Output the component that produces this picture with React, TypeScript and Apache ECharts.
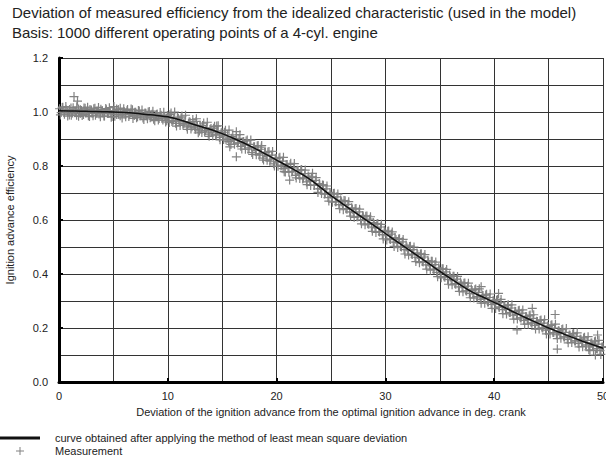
import React, { useEffect, useRef } from "react";
import * as echarts from "echarts";

const titleLine1 = "Deviation of measured efficiency from the idealized characteristic (used in the model)";
const titleLine2 = "Basis: 1000 different operating points of a 4-cyl. engine";
const xAxisName = "Deviation of the ignition advance from the optimal ignition advance in deg. crank";
const yAxisName = "Ignition advance efficiency";
const curveName = "curve obtained after applying the method of least mean square deviation";
const measName = "Measurement";

// fitted curve, read at each integer x (0..50)
const curveX = [0, 1, 2, 3, 4, 5, 6, 7, 8, 9, 10, 11, 12, 13, 14, 15, 16, 17, 18, 19, 20, 21, 22, 23, 24, 25, 26, 27, 28, 29, 30, 31, 32, 33, 34, 35, 36, 37, 38, 39, 40, 41, 42, 43, 44, 45, 46, 47, 48, 49, 50];
const curveY = [1.005, 1.004, 1.003, 1.002, 1.001, 1.0, 0.998, 0.995, 0.991, 0.987, 0.982, 0.972, 0.959, 0.946, 0.934, 0.92, 0.903, 0.885, 0.865, 0.844, 0.822, 0.8, 0.777, 0.752, 0.722, 0.69, 0.662, 0.634, 0.606, 0.578, 0.55, 0.522, 0.494, 0.466, 0.438, 0.41, 0.383, 0.357, 0.333, 0.314, 0.295, 0.275, 0.255, 0.236, 0.218, 0.2, 0.184, 0.168, 0.153, 0.139, 0.125];

// measured points [x, efficiency], part 1
const measurementsA: [number, number][] = [
  [0.05, 1.012], [0.2, 0.998], [0.35, 1.018], [0.5, 0.992], [0.65, 1.008], [0.8, 1.001], [0.95, 0.989],
  [1.1, 1.015], [1.25, 0.996], [1.38, 1.057], [1.5, 1.003], [1.62, 0.988], [1.8, 1.011], [1.95, 0.994], [1.7, 1.04],
  [2.08, 1.006], [2.25, 0.991], [2.4, 1.014], [2.55, 0.999], [2.7, 0.986], [2.85, 1.009],
  [3.05, 0.995], [3.2, 1.012], [3.35, 0.988], [3.5, 1.004], [3.68, 0.993], [3.85, 1.01],
  [4.02, 0.997], [4.18, 0.985], [4.35, 1.008], [4.52, 0.994], [4.7, 1.002], [4.88, 0.983],
  [5.05, 1.02], [5.12, 1.004], [5.3, 0.991], [5.45, 1.009], [5.62, 0.986], [5.8, 0.998], [5.95, 1.012],
  [6.1, 0.99], [6.25, 1.005], [6.42, 0.983], [6.6, 0.996], [6.75, 1.008], [6.92, 0.987],
  [7.05, 0.999], [7.22, 0.982], [7.38, 1.004], [7.55, 0.99], [7.72, 0.978], [7.9, 0.996],
  [8.05, 0.986], [8.2, 1.0], [8.38, 0.979], [8.55, 0.992], [8.7, 0.973], [8.88, 0.985],
  [9.02, 0.993], [9.2, 0.976], [9.38, 0.988], [9.55, 0.97], [9.72, 0.982], [9.9, 0.968],
  [10.05, 0.978], [10.2, 0.99], [10.38, 0.965], [10.55, 0.975], [10.72, 0.958], [10.88, 0.981],
  [11.05, 0.966], [11.22, 0.978], [11.4, 0.952], [11.58, 0.963], [11.75, 0.945], [11.9, 0.958],
  [12.05, 0.962], [12.22, 0.945], [12.4, 0.953], [12.55, 0.936], [12.72, 0.949], [12.9, 0.93], [12.6, 0.965],
  [13.05, 0.938], [13.2, 0.95], [13.38, 0.926], [13.55, 0.941], [13.72, 0.918], [13.88, 0.935],
  [14.05, 0.925], [14.22, 0.94], [14.4, 0.915], [14.58, 0.93], [14.75, 0.906], [14.9, 0.922], [14.5, 0.948],
  [15.05, 0.912], [15.2, 0.925], [15.35, 0.897], [15.5, 0.915], [15.7, 0.871], [15.85, 0.903], [15.6, 0.89],
  [16.05, 0.896], [16.3, 0.927], [16.3, 0.834], [16.4, 0.885], [16.55, 0.902], [16.7, 0.873], [16.88, 0.889],
  [17.05, 0.878], [17.2, 0.893], [17.38, 0.862], [17.55, 0.88], [17.72, 0.85], [17.9, 0.871],
  [18.05, 0.858], [18.22, 0.874], [18.4, 0.84], [18.55, 0.862], [18.72, 0.829], [18.9, 0.85], [18.6, 0.87],
  [19.05, 0.838], [19.2, 0.852], [19.38, 0.818], [19.55, 0.84], [19.72, 0.808], [19.88, 0.829],
  [20.05, 0.815], [20.22, 0.83], [20.4, 0.8], [20.55, 0.818], [20.7, 0.779], [20.88, 0.806], [20.6, 0.79],
  [21.05, 0.794], [21.2, 0.748], [21.25, 0.806], [21.4, 0.778], [21.58, 0.793], [21.75, 0.765], [21.9, 0.784],
  [22.05, 0.771], [22.22, 0.785], [22.4, 0.752], [22.58, 0.772], [22.75, 0.741], [22.9, 0.763],
  [23.05, 0.745], [23.2, 0.758], [23.3, 0.773], [23.45, 0.728], [23.6, 0.747], [23.78, 0.715], [23.92, 0.735],
  [24.05, 0.716], [24.22, 0.73], [24.4, 0.696], [24.55, 0.715], [24.72, 0.683], [24.9, 0.702],
  [25.05, 0.685], [25.22, 0.698], [25.4, 0.668], [25.55, 0.686], [25.72, 0.657], [25.88, 0.674],
  [26.05, 0.656], [26.2, 0.672], [26.38, 0.642], [26.55, 0.658], [26.72, 0.63], [26.9, 0.645],
  [27.05, 0.628], [27.22, 0.642], [27.4, 0.612], [27.58, 0.63], [27.72, 0.6], [27.9, 0.617],
  [28.05, 0.601], [28.2, 0.614], [28.38, 0.586], [28.55, 0.603], [28.72, 0.574], [28.9, 0.59],
  [29.05, 0.572], [29.22, 0.585], [29.4, 0.557], [29.55, 0.574], [29.72, 0.546], [29.9, 0.562],
  [30.05, 0.545], [30.22, 0.558], [30.4, 0.53], [30.55, 0.548], [30.72, 0.518], [30.88, 0.535],
  [31.05, 0.517], [31.22, 0.53], [31.4, 0.502], [31.55, 0.519], [31.72, 0.49], [31.9, 0.507],
  [32.05, 0.489], [32.22, 0.502], [32.4, 0.474], [32.55, 0.49], [32.72, 0.462], [32.9, 0.478],
  [33.05, 0.461], [33.22, 0.474], [33.4, 0.446], [33.55, 0.463], [33.72, 0.434], [33.9, 0.45],
  [34.05, 0.433], [34.22, 0.447], [34.4, 0.418], [34.55, 0.435], [34.72, 0.406], [34.9, 0.423],
  [35.05, 0.405], [35.22, 0.419], [35.4, 0.39], [35.55, 0.408], [35.72, 0.38], [35.9, 0.396],
  [36.05, 0.378], [36.22, 0.392], [36.4, 0.364], [36.55, 0.381], [36.72, 0.352], [36.9, 0.37],
  [37.05, 0.352], [37.22, 0.366], [37.4, 0.338], [37.55, 0.355], [37.72, 0.328], [37.9, 0.344],
  [38.05, 0.328], [38.22, 0.342], [38.4, 0.316], [38.55, 0.332], [38.8, 0.353], [38.72, 0.306], [38.9, 0.322],
  [39.05, 0.31], [39.22, 0.322], [39.4, 0.296], [39.55, 0.313], [39.72, 0.287], [39.9, 0.303],
  [40.05, 0.29], [40.22, 0.303], [40.4, 0.328], [40.45, 0.277], [40.6, 0.294], [40.75, 0.268], [40.9, 0.283],
  [41.05, 0.27], [41.22, 0.284], [41.4, 0.257], [41.55, 0.274], [41.72, 0.248], [41.9, 0.262],
  [42.05, 0.25], [42.1, 0.193], [42.22, 0.264], [42.4, 0.238], [42.55, 0.255], [42.72, 0.228], [42.9, 0.243],
  [43.05, 0.232], [43.22, 0.245], [43.4, 0.219], [43.5, 0.273], [43.58, 0.236], [43.72, 0.21], [43.9, 0.225],
  [44.05, 0.214], [44.22, 0.228], [44.4, 0.201], [44.55, 0.218], [44.72, 0.192], [44.9, 0.207],
  [45.05, 0.196], [45.22, 0.21], [45.4, 0.183], [45.6, 0.25], [45.8, 0.122], [45.55, 0.2], [45.72, 0.175], [45.9, 0.19],
  [46.05, 0.18], [46.22, 0.194], [46.4, 0.167], [46.55, 0.184], [46.72, 0.158], [46.9, 0.174],
  [47.05, 0.164], [47.22, 0.178], [47.4, 0.152], [47.55, 0.169], [47.72, 0.143], [47.9, 0.158],
  [48.05, 0.149], [48.22, 0.163], [48.4, 0.137], [48.55, 0.154], [48.7, 0.119], [48.72, 0.13], [48.9, 0.144],
  [49.05, 0.135], [49.22, 0.149], [49.4, 0.124], [49.5, 0.174], [49.3, 0.1], [49.55, 0.14], [49.72, 0.116], [49.9, 0.13],
  [50, 0.128],
];

// measured points [x, efficiency], part 2
const measurementsB: [number, number][] = [
  [0.13, 0.989], [0.3, 1.017], [0.47, 0.998], [0.63, 1.02], [0.8, 0.985], [0.97, 1.009],
  [1.13, 0.988], [1.3, 1.016], [1.47, 0.997], [1.63, 1.019], [1.8, 0.984], [1.97, 1.008],
  [2.13, 0.987], [2.3, 1.015], [2.47, 0.996], [2.63, 1.018], [2.8, 0.983], [2.97, 1.007],
  [3.13, 0.986], [3.3, 1.014], [3.47, 0.995], [3.63, 1.017], [3.8, 0.982], [3.97, 1.006],
  [4.13, 0.985], [4.3, 1.013], [4.47, 0.994], [4.63, 1.016], [4.8, 0.981], [4.97, 1.005],
  [5.13, 0.984], [5.3, 1.011], [5.47, 0.992], [5.63, 1.014], [5.8, 0.978], [5.97, 1.002],
  [6.13, 0.982], [6.3, 1.009], [6.47, 0.99], [6.63, 1.011], [6.8, 0.976], [6.97, 0.999],
  [7.13, 0.979], [7.3, 1.006], [7.47, 0.986], [7.63, 1.007], [7.8, 0.972], [7.97, 0.995],
  [8.13, 0.975], [8.3, 1.002], [8.47, 0.982], [8.63, 1.003], [8.8, 0.968], [8.97, 0.991],
  [9.13, 0.97], [9.3, 0.998], [9.47, 0.978], [9.63, 0.999], [9.8, 0.963], [9.97, 0.987],
  [10.13, 0.961], [10.3, 0.996], [10.47, 0.968], [10.63, 1.0], [10.8, 0.948], [10.97, 0.977],
  [11.13, 0.95], [11.3, 0.985], [11.47, 0.957], [11.63, 0.988], [11.8, 0.936], [11.97, 0.964],
  [12.13, 0.937], [12.3, 0.972], [12.47, 0.944], [12.63, 0.975], [12.8, 0.923], [12.97, 0.951],
  [13.13, 0.924], [13.3, 0.959], [13.47, 0.931], [13.63, 0.962], [13.8, 0.91], [13.97, 0.939],
  [14.13, 0.912], [14.3, 0.947], [14.47, 0.918], [14.63, 0.949], [14.8, 0.897], [14.97, 0.925],
  [15.13, 0.898], [15.3, 0.932], [15.47, 0.903], [15.63, 0.933], [15.8, 0.88], [15.97, 0.909],
  [16.13, 0.881], [16.3, 0.915], [16.47, 0.886], [16.63, 0.916], [16.8, 0.863], [16.97, 0.891],
  [17.13, 0.862], [17.3, 0.896], [17.47, 0.867], [17.63, 0.896], [17.8, 0.843], [17.97, 0.871],
  [18.13, 0.842], [18.3, 0.876], [18.47, 0.846], [18.63, 0.876], [18.8, 0.822], [18.97, 0.85],
  [19.13, 0.821], [19.3, 0.854], [19.47, 0.825], [19.63, 0.854], [19.8, 0.8], [19.97, 0.828],
  [20.13, 0.799], [20.3, 0.832], [20.47, 0.803], [20.63, 0.832], [20.8, 0.778], [20.97, 0.806],
  [21.13, 0.777], [21.3, 0.81], [21.47, 0.78], [21.63, 0.809], [21.8, 0.756], [21.97, 0.783],
  [22.13, 0.754], [22.3, 0.787], [22.47, 0.756], [22.63, 0.785], [22.8, 0.731], [22.97, 0.758],
  [23.13, 0.728], [23.3, 0.76], [23.47, 0.729], [23.63, 0.757], [23.8, 0.702], [23.97, 0.728],
  [24.13, 0.698], [24.3, 0.729], [24.47, 0.698], [24.63, 0.726], [24.8, 0.67], [24.97, 0.696],
  [25.13, 0.666], [25.3, 0.699], [25.47, 0.668], [25.63, 0.696], [25.8, 0.642], [25.97, 0.668],
  [26.13, 0.638], [26.3, 0.671], [26.47, 0.64], [26.63, 0.668], [26.8, 0.614], [26.97, 0.64],
  [27.13, 0.61], [27.3, 0.643], [27.47, 0.612], [27.63, 0.64], [27.8, 0.586], [27.97, 0.612],
  [28.13, 0.582], [28.3, 0.615], [28.47, 0.584], [28.63, 0.612], [28.8, 0.558], [28.97, 0.584],
  [29.13, 0.554], [29.3, 0.587], [29.47, 0.556], [29.63, 0.584], [29.8, 0.53], [29.97, 0.556],
  [30.13, 0.526], [30.3, 0.559], [30.47, 0.528], [30.63, 0.556], [30.8, 0.502], [30.97, 0.528],
  [31.13, 0.498], [31.3, 0.531], [31.47, 0.5], [31.63, 0.528], [31.8, 0.474], [31.97, 0.5],
  [32.13, 0.47], [32.3, 0.503], [32.47, 0.472], [32.63, 0.5], [32.8, 0.446], [32.97, 0.472],
  [33.13, 0.442], [33.3, 0.475], [33.47, 0.444], [33.63, 0.472], [33.8, 0.418], [33.97, 0.444],
  [34.13, 0.414], [34.3, 0.447], [34.47, 0.416], [34.63, 0.444], [34.8, 0.39], [34.97, 0.416],
  [35.13, 0.386], [35.3, 0.419], [35.47, 0.388], [35.63, 0.417], [35.8, 0.362], [35.97, 0.389],
  [36.13, 0.36], [36.3, 0.392], [36.47, 0.362], [36.63, 0.391], [36.8, 0.336], [36.97, 0.363],
  [37.13, 0.334], [37.3, 0.367], [37.47, 0.337], [37.63, 0.366], [37.8, 0.312], [37.97, 0.339],
  [38.13, 0.311], [38.3, 0.344], [38.47, 0.315], [38.63, 0.345], [38.8, 0.292], [38.97, 0.32],
  [39.13, 0.292], [39.3, 0.325], [39.47, 0.296], [39.63, 0.326], [39.8, 0.273], [39.97, 0.3],
  [40.13, 0.272], [40.3, 0.306], [40.47, 0.277], [40.63, 0.306], [40.8, 0.253], [40.97, 0.281],
  [41.13, 0.252], [41.3, 0.286], [41.47, 0.257], [41.63, 0.286], [41.8, 0.233], [41.97, 0.261],
  [42.13, 0.233], [42.3, 0.266], [42.47, 0.237], [42.63, 0.267], [42.8, 0.214], [42.97, 0.242],
  [43.13, 0.214], [43.3, 0.248], [43.47, 0.218], [43.63, 0.249], [43.8, 0.196], [43.97, 0.224],
  [44.13, 0.196], [44.3, 0.23], [44.47, 0.2], [44.63, 0.231], [44.8, 0.178], [44.97, 0.206],
  [45.13, 0.178], [45.3, 0.212], [45.47, 0.183], [45.63, 0.214], [45.8, 0.161], [45.97, 0.189],
  [46.13, 0.162], [46.3, 0.196], [46.47, 0.167], [46.63, 0.198], [46.8, 0.145], [46.97, 0.173],
  [47.13, 0.146], [47.3, 0.18], [47.47, 0.152], [47.63, 0.182], [47.8, 0.13], [47.97, 0.158],
  [48.13, 0.131], [48.3, 0.166], [48.47, 0.137], [48.63, 0.168], [48.8, 0.116], [48.97, 0.144],
  [49.13, 0.117], [49.3, 0.152], [49.47, 0.123], [49.63, 0.154], [49.8, 0.102], [49.97, 0.13],
];

const FONT = "'Liberation Sans', Arial, sans-serif";
const TEXT = "#222";
const GRID = "#333";
const MARK = "#828282";

export default function App() {
  const ref = useRef<HTMLDivElement>(null);
  useEffect(() => {
    if (!ref.current) return;
    const chart = echarts.init(ref.current, undefined, { renderer: "svg" });
    const splitStyle = { color: GRID, width: 1 };
    chart.setOption({
      animation: false,
      backgroundColor: "#fff",
      grid: { left: 59, right: 3, top: 58, bottom: 79, containLabel: false, outerBoundsMode: "none" },
      xAxis: {
        type: "value",
        min: 0,
        max: 50,
        interval: 10,
        name: xAxisName,
        nameLocation: "middle",
        nameGap: 24,
        nameTextStyle: { fontFamily: FONT, fontSize: 11, color: TEXT },
        axisLine: { show: true, lineStyle: { color: "#000", width: 3 } },
        axisTick: { show: true, inside: true, length: 4, lineStyle: { color: "#000", width: 2 } },
        axisLabel: { fontFamily: FONT, fontSize: 11, color: TEXT, margin: 8 },
        splitLine: { show: true, lineStyle: splitStyle },
        minorTick: { show: false, splitNumber: 2 },
        minorSplitLine: { show: true, lineStyle: splitStyle },
      },
      yAxis: {
        type: "value",
        min: 0,
        max: 1.2,
        interval: 0.2,
        name: yAxisName,
        nameLocation: "middle",
        nameGap: 44,
        nameTextStyle: { fontFamily: FONT, fontSize: 11, color: TEXT },
        axisLine: { show: true, lineStyle: { color: "#000", width: 3 } },
        axisTick: { show: true, inside: true, length: 4, lineStyle: { color: "#000", width: 2 } },
        axisLabel: {
          fontFamily: FONT,
          fontSize: 11,
          color: TEXT,
          margin: 11,
          formatter: (v: number) => v.toFixed(1),
        },
        splitLine: { show: true, lineStyle: splitStyle },
        minorTick: { show: false, splitNumber: 2 },
        minorSplitLine: { show: true, lineStyle: splitStyle },
      },
      series: [
        {
          name: measName,
          type: "scatter",
          data: measurementsA.concat(measurementsB),
          symbol: "path://M0,4H8M4,0V8",
          symbolSize: 9,
          itemStyle: { color: "none", borderColor: MARK, borderWidth: 1.2, opacity: 1 },
          z: 2,
        },
        {
          name: curveName,
          type: "line",
          data: curveX.map((x, i) => [x, curveY[i]]),
          smooth: true,
          showSymbol: false,
          lineStyle: { color: "#111", width: 1.5 },
          z: 3,
        },
      ],
      graphic: [
        { type: "text", left: 12, top: 5, style: { text: titleLine1, font: `15px ${FONT}`, fill: TEXT } },
        { type: "text", left: 12, top: 25, style: { text: titleLine2, font: `15px ${FONT}`, fill: TEXT } },
        { type: "line", shape: { x1: 0, y1: 438, x2: 40, y2: 438 }, style: { stroke: "#111", lineWidth: 3 } },
        { type: "text", left: 55, top: 432, style: { text: curveName, font: `11px ${FONT}`, fill: TEXT } },
        { type: "line", shape: { x1: 16, y1: 451, x2: 24, y2: 451 }, style: { stroke: MARK, lineWidth: 1 } },
        { type: "line", shape: { x1: 20, y1: 447, x2: 20, y2: 455 }, style: { stroke: MARK, lineWidth: 1 } },
        { type: "text", left: 55, top: 445, style: { text: measName, font: `11px ${FONT}`, fill: TEXT } },
      ],
    });
    return () => chart.dispose();
  }, []);
  return (
    <div
      ref={ref}
      style={{ position: "fixed", left: 0, top: 0, width: 606, height: 461, background: "#fff" }}
    />
  );
}
